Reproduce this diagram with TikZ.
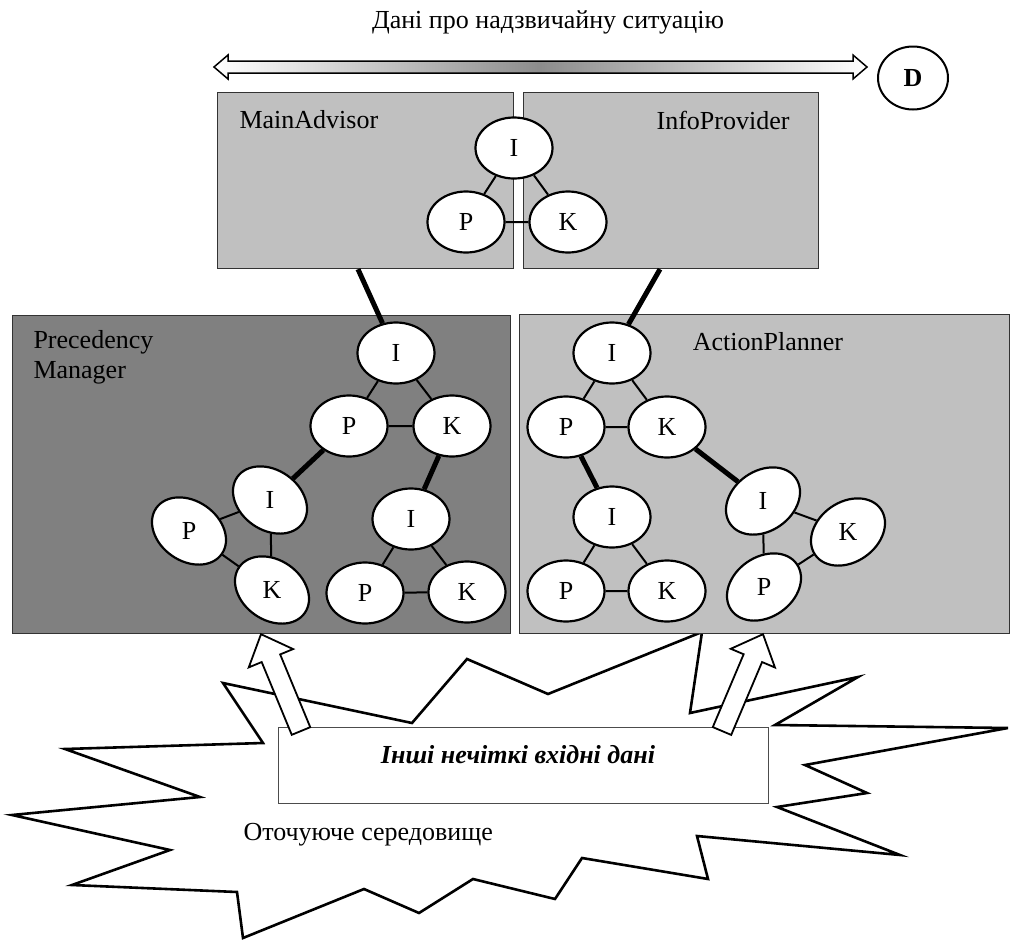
\documentclass[tikz,border=0pt]{standalone}
\usepackage{fontspec}
\setmainfont{Liberation Serif}
\usetikzlibrary{calc,shapes.geometric}
\definecolor{panellight}{HTML}{C0C0C0}
\definecolor{paneldark}{HTML}{808080}
\newcommand\blockarrow[2]{%
  \coordinate (neck) at ($(#2)!26pt!(#1)$);
  \draw [line width=1.8pt, fill=white, line join=miter]
    ($(#1)!10pt!90:(#2)$) -- ($(neck)!10pt!90:(#2)$) -- ($(neck)!24pt!90:(#2)$) -- (#2)
    -- ($(neck)!24pt!-90:(#2)$) -- ($(neck)!10pt!-90:(#2)$) -- ($(#1)!10pt!-90:(#2)$) -- cycle;}
\begin{document}
\begin{tikzpicture}[x=1pt,y=-1pt,
    font=\fontsize{26}{30}\selectfont,
    agent/.style={ellipse,draw,line width=2.2pt,fill=white,minimum width=77pt,minimum height=61pt,inner sep=0pt},
    tiltl/.style={agent,rotate=-35,minimum width=80pt,minimum height=60pt},
    tiltr/.style={agent,rotate=35,minimum width=80pt,minimum height=60pt},
    panel/.style={draw=black!80,line width=1.2pt,anchor=north west,inner sep=0pt},
    bond/.style={line width=2pt},
    heavybond/.style={line width=5pt}]
    \useasboundingbox (0,0) rectangle (1010,940);
    \draw [line width=2.6pt, fill=white, line join=miter] (223,683) -- (412,723) -- (467,659) -- (548,694) -- (702,632) -- (690,713) -- (858,677) -- (775,725) -- (1008,728) -- (805,765) -- (867,793) -- (777,807) -- (900,855) -- (697,836) -- (708,879) -- (582,858) -- (555,899) -- (473,879) -- (419,913) -- (364,889) -- (243,938) -- (237,892) -- (72,885) -- (170,850) -- (12,815) -- (200,797) -- (65,749) -- (263,743) -- cycle;
    \node (title) at (548,22) {Дані про надзвичайну ситуацію};
    \draw [line width=1.5pt, left color=white, right color=white, middle color=black!45] (214,67) -- (228,55) -- (228,61) -- (853,61) -- (853,55) -- (867,67) -- (853,79) -- (853,73) -- (228,73) -- (228,79) -- cycle;
    \node [ellipse, draw, line width=2pt, minimum width=70pt, minimum height=63pt] (d) at (913,78) {\bfseries D};
    \node [panel, fill=panellight, minimum width=296pt, minimum height=176pt] (ma) at (217,92) {};
    \node [panel, fill=panellight, minimum width=295pt, minimum height=176pt] (ip) at (523,92) {};
    \node [panel, fill=paneldark, minimum width=498pt, minimum height=318pt] (pm) at (12,315) {};
    \node [panel, fill=panellight, minimum width=490pt, minimum height=319pt] (ap) at (519,314) {};
    \node [anchor=west] (malabel) at (236,120) {MainAdvisor};
    \node [anchor=east] (iplabel) at (793,120) {InfoProvider};
    \node [anchor=west, align=left] (pmlabel) at (30,357) {Precedency\\Manager};
    \node (aplabel) at (768,342) {ActionPlanner};
    \node [agent] (topi) at (514,148) {I};
    \node [agent] (topp) at (466,222) {P};
    \node [agent] (topk) at (568,222) {K};
    \draw [bond] (topi) -- (topp) -- (topk) -- (topi);
    \node [agent] (pmi) at (396,353) {I};
    \node [agent] (pmp) at (349,426) {P};
    \node [agent] (pmk) at (452,426) {K};
    \draw [bond] (pmi) -- (pmp) -- (pmk) -- (pmi);
    \node [tiltl] (pmi2) at (270,500) {\rotatebox{35}{I}};
    \node [tiltl] (pmp2) at (189,531) {\rotatebox{35}{P}};
    \node [tiltl] (pmk2) at (272,590) {\rotatebox{35}{K}};
    \draw [bond] (pmi2) -- (pmp2) -- (pmk2) -- (pmi2);
    \node [agent] (pmi3) at (411,519) {I};
    \node [agent] (pmp3) at (365,593) {P};
    \node [agent] (pmk3) at (467,592) {K};
    \draw [bond] (pmi3) -- (pmp3) -- (pmk3) -- (pmi3);
    \node [agent] (api) at (612,353) {I};
    \node [agent] (app) at (566,427) {P};
    \node [agent] (apk) at (667,427) {K};
    \draw [bond] (api) -- (app) -- (apk) -- (api);
    \node [agent] (api2) at (612,517) {I};
    \node [agent] (app2) at (566,591) {P};
    \node [agent] (apk2) at (667,591) {K};
    \draw [bond] (api2) -- (app2) -- (apk2) -- (api2);
    \node [tiltr] (api3) at (763,501) {\rotatebox{-35}{I}};
    \node [tiltr] (apk3) at (848,532) {\rotatebox{-35}{K}};
    \node [tiltr] (app3) at (764,587) {\rotatebox{-35}{P}};
    \draw [bond] (api3) -- (apk3) -- (app3) -- (api3);
    \draw [heavybond] ([xshift=141pt]ma.south west) -- (pmi);
    \draw [heavybond] ([xshift=137pt]ip.south west) -- (api);
    \draw [heavybond] (pmp) -- (pmi2);
    \draw [heavybond] (pmk) -- (pmi3);
    \draw [heavybond] (app) -- (api2);
    \draw [heavybond] (apk) -- (api3);
    \node [draw=black!70, line width=1.2pt, fill=white, minimum width=490pt, minimum height=76pt, anchor=north west] (inputs) at (278,727) {};
    \node [font=\fontsize{26}{30}\selectfont\bfseries\itshape] (inputslabel) at (518,755) {Інші нечіткі вхідні дані};
    \node [anchor=west] (env) at (240,835) {Оточуюче середовище};
    \coordinate (inl) at ([xshift=23pt,yshift=-4pt]inputs.north west);
    \coordinate (inr) at ([xshift=444pt,yshift=-4pt]inputs.north west);
    \coordinate (pmin) at ([xshift=249pt]pm.south west);
    \coordinate (apin) at ([xshift=244pt]ap.south west);
    \blockarrow{inl}{pmin}
    \blockarrow{inr}{apin}
\end{tikzpicture}
\end{document}
